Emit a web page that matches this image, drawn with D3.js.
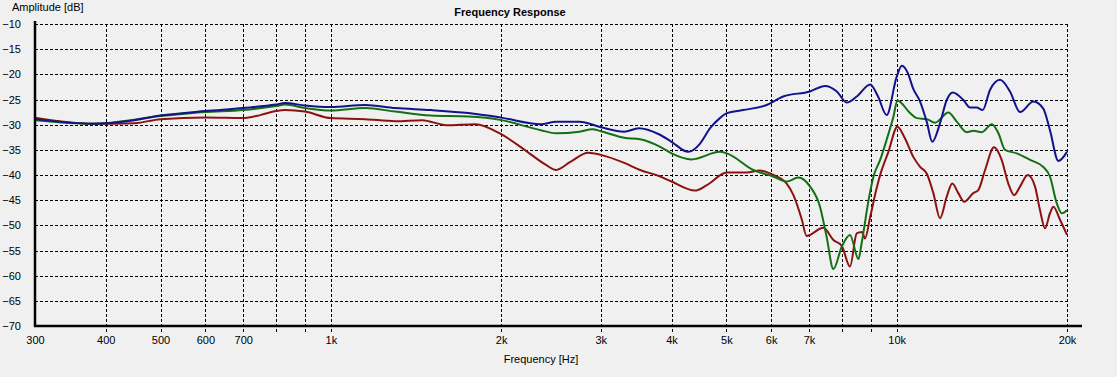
<!DOCTYPE html>
<html lang="en">
<head>
    <meta charset="UTF-8">
    <title>Frequency Response</title>
    <script src="https://d3js.org/d3.v7.min.js"></script>
    <style>
        body { margin: 0; background: #f0f0f0; }
        svg { display: block; font-family: "Liberation Sans", Arial, sans-serif; }
    </style>
    <script>
        // measured curves (Hz / dB)
        const blueFreq = [300,380,450,500,600,700,800,830,900,1000,1150,1300,1500,1750,2000,2350,2500,2750,3000,3300,3500,3800,4000,4280,4490,4680,4870,5010,5350,5890,6300,7030,7470,7840,8160,8500,8980,9270,9600,10000,10210,10470,10690,11000,11300,11560,11930,12260,12560,13120,13480,13850,14190,14620,15230,15860,16520,17440,18160,18660,19310,20000];
        const blueDb = [-28.9,-29.8,-29.1,-28.2,-27.3,-26.7,-26.0,-25.7,-26.2,-26.5,-26.1,-26.7,-27.1,-27.7,-28.6,-29.9,-29.4,-29.4,-30.5,-31.4,-30.7,-31.9,-33.4,-35.4,-33.8,-30.7,-28.7,-27.7,-27.1,-26.1,-24.4,-23.4,-22.3,-23.4,-25.6,-24.4,-22.0,-24.4,-28.1,-20.5,-18.3,-19.8,-22.8,-25.4,-29.4,-33.4,-29.7,-25.1,-23.6,-25.1,-26.6,-26.6,-27.1,-23.1,-21.1,-23.4,-27.5,-25.4,-26.8,-31.1,-37.2,-35.4];

        const greenFreq = [300,380,500,600,700,800,830,900,1000,1150,1300,1500,1750,2000,2350,2500,2750,2900,3000,3300,3520,3820,4000,4340,4870,5010,5580,6050,6390,6700,7030,7320,7520,7730,8000,8270,8560,8670,8920,9100,9350,9600,9870,10030,10560,10850,11300,11690,12340,12770,13300,13660,14140,14730,15130,15540,16300,17210,18160,18660,19180,19580,20000];
        const greenDb = [-29.1,-29.8,-28.3,-27.5,-27.1,-26.3,-26.0,-26.7,-27.2,-26.7,-27.4,-28.2,-28.4,-29.1,-31.1,-31.7,-31.4,-30.9,-31.3,-32.6,-32.9,-34.4,-35.7,-36.9,-35.4,-35.7,-39.0,-40.3,-41.3,-40.5,-42.3,-46.3,-52.3,-58.7,-54.2,-51.9,-56.7,-53.6,-45.0,-40.3,-37.0,-33.0,-28.4,-25.2,-27.7,-28.7,-28.9,-29.6,-27.6,-29.4,-31.5,-31.2,-31.5,-29.9,-31.7,-35.0,-35.7,-37.0,-38.4,-40.3,-45.6,-47.6,-47.0];

        const redFreq = [300,380,450,500,600,700,750,800,830,900,1000,1150,1300,1450,1600,1800,2000,2200,2400,2500,2650,2850,3000,3300,3520,3820,4000,4400,4620,5010,5430,5730,5970,6390,6570,6800,6930,7420,7730,8000,8270,8500,8680,8790,8980,9200,9350,9670,10030,10340,10700,11000,11300,11610,11930,12260,12540,12850,13160,13660,13940,14330,14860,15330,15750,16130,16520,17050,17560,17920,18290,18660,18920,19440,20000];
        const redDb = [-28.6,-29.8,-29.7,-28.9,-28.6,-28.7,-28.1,-27.3,-27.1,-27.4,-28.7,-28.9,-29.3,-29.1,-30.1,-29.9,-31.9,-35.0,-38.0,-39.0,-37.4,-35.6,-36.0,-37.6,-39.0,-40.3,-41.3,-43.1,-42.0,-39.5,-39.5,-39.1,-39.7,-41.7,-44.0,-48.9,-52.1,-50.5,-52.9,-54.1,-58.2,-51.6,-51.3,-52.6,-48.3,-43.0,-40.0,-35.4,-30.4,-32.7,-36.4,-38.4,-39.7,-43.6,-48.6,-44.3,-41.7,-43.6,-45.3,-43.6,-43.0,-39.0,-34.5,-37.0,-41.7,-44.0,-42.3,-40.0,-42.3,-47.0,-50.6,-47.6,-46.3,-48.9,-51.9];

        const gridFreqs = [300,400,500,600,700,800,900,1000,2000,3000,4000,5000,6000,7000,8000,9000,10000,20000];
        const labelFreqs = [300,400,500,600,700,1000,2000,3000,4000,5000,6000,7000,10000,20000];
        const dbTicks = [-10,-15,-20,-25,-30,-35,-40,-45,-50,-55,-60,-65,-70];

        document.addEventListener("DOMContentLoaded", function() {
            drawChart();
        });

        function drawChart() {
            const width = 1117;
            const height = 377;
            const left = 35, right = 1067, top = 24, bottom = 326;

            const svg = d3.select("svg").attr("width", width).attr("height", height);

            svg.append("rect").attr("width", width).attr("height", height).attr("fill", "#f0f0f0");

            const xScale = d3.scaleLog().domain([300, 20000]).range([left, right]);
            const yScale = d3.scaleLinear().domain([-70, -10]).range([bottom, top]);

            // grid
            svg.append("g").selectAll("line").data(dbTicks.slice(0, -1)).join("line")
                .attr("x1", left).attr("x2", right)
                .attr("y1", d => Math.round(yScale(d)) + 0.5)
                .attr("y2", d => Math.round(yScale(d)) + 0.5)
                .attr("stroke", "#000").attr("stroke-width", 1)
                .attr("stroke-dasharray", "3,2");

            svg.append("g").selectAll("line").data(gridFreqs.slice(1)).join("line")
                .attr("x1", d => Math.round(xScale(d)) + 0.5)
                .attr("x2", d => Math.round(xScale(d)) + 0.5)
                .attr("y1", top).attr("y2", bottom + 8)
                .attr("stroke", "#000").attr("stroke-width", 1)
                .attr("stroke-dasharray", "3,2");

            // curves
            const line = d3.line()
                .x(d => xScale(d[0]))
                .y(d => yScale(d[1]))
                .curve(d3.curveMonotoneX);

            const series = [
                { f: redFreq, v: redDb, color: "#8c1212" },
                { f: greenFreq, v: greenDb, color: "#127012" },
                { f: blueFreq, v: blueDb, color: "#12128c" }
            ];

            series.forEach(function(s) {
                svg.append("path")
                    .datum(s.f.map((f, i) => [f, s.v[i]]))
                    .attr("fill", "none")
                    .attr("stroke", s.color)
                    .attr("stroke-width", 2)
                    .attr("d", line);
            });

            // axes lines
            svg.append("line")
                .attr("x1", left).attr("x2", left)
                .attr("y1", top - 3).attr("y2", bottom + 1)
                .attr("stroke", "#000").attr("stroke-width", 2.5);
            svg.append("line")
                .attr("x1", left - 1).attr("x2", 1082)
                .attr("y1", bottom).attr("y2", bottom)
                .attr("stroke", "#000").attr("stroke-width", 2.5);

            // tick labels
            const xAxis = svg.append("g")
                .attr("transform", "translate(0," + (bottom + 8) + ")")
                .call(d3.axisBottom(xScale).tickValues(labelFreqs).tickSize(0)
                    .tickFormat(d => d >= 1000 ? (d / 1000) + "k" : d));
            xAxis.select(".domain").remove();
            xAxis.selectAll("text").attr("font-size", 11).attr("fill", "#000")
                .attr("font-family", "Liberation Sans, Arial, sans-serif").attr("dy", "0.6em");

            const yAxis = svg.append("g")
                .attr("transform", "translate(21,0)")
                .call(d3.axisLeft(yScale).tickValues(dbTicks).tickSize(0));
            yAxis.select(".domain").remove();
            yAxis.selectAll("text").attr("font-size", 11).attr("fill", "#000")
                .attr("font-family", "Liberation Sans, Arial, sans-serif").attr("x", 0);

            // titles
            svg.append("text").attr("x", 510).attr("y", 16)
                .attr("text-anchor", "middle").attr("font-size", 11).attr("font-weight", "bold")
                .text("Frequency Response");
            svg.append("text").attr("x", 12).attr("y", 11)
                .attr("font-size", 11)
                .text("Amplitude [dB]");
            svg.append("text").attr("x", 541).attr("y", 363)
                .attr("text-anchor", "middle").attr("font-size", 11)
                .text("Frequency [Hz]");
        }
    </script>
</head>
<body>
    <svg id="chart"></svg>
</body>
</html>
